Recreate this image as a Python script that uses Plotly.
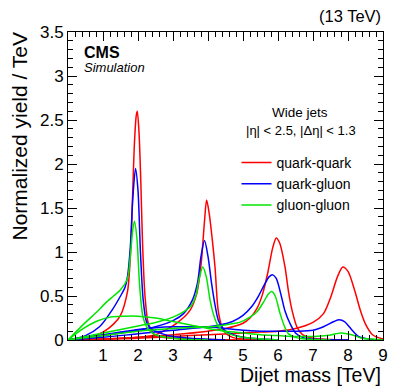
import plotly.graph_objects as go

# signal shapes: (x in TeV, normalized yield / TeV)
qq2_x = [0, 0.5, 1.0, 1.3, 1.5, 1.7, 1.75, 1.8, 1.85, 1.9, 1.95, 1.98, 2.03, 2.08, 2.13, 2.2, 2.3, 2.5, 3.0, 3.5, 4.0, 5.0]
qq2_y = [0, 0.02, 0.09, 0.18, 0.28, 0.55, 0.75, 1.1, 1.7, 2.25, 2.55, 2.6, 2.35, 1.8, 1.1, 0.5, 0.18, 0.05, 0.02, 0.01, 0.005, 0]
qg2_x = [0, 0.5, 0.9, 1.26, 1.5, 1.63, 1.7, 1.78, 1.85, 1.93, 2.0, 2.07, 2.15, 2.25, 2.4, 2.7, 3.0, 3.5, 4.5]
qg2_y = [0, 0.05, 0.15, 0.34, 0.5, 0.6, 0.72, 1.05, 1.6, 1.95, 1.7, 1.0, 0.45, 0.2, 0.12, 0.07, 0.04, 0.02, 0]
gg2_x = [0, 0.5, 0.8, 1.1, 1.3, 1.5, 1.7, 1.78, 1.85, 1.9, 1.97, 2.05, 2.15, 2.3, 2.5, 2.8, 3.2, 4.0]
gg2_y = [0, 0.2, 0.31, 0.43, 0.5, 0.57, 0.7, 0.95, 1.25, 1.35, 1.15, 0.6, 0.25, 0.12, 0.06, 0.03, 0.01, 0]

qq4_x = [0, 1, 2, 2.5, 3.1, 3.49, 3.68, 3.8, 3.9, 3.96, 4.03, 4.12, 4.2, 4.29, 4.4, 4.5, 4.7, 5.0, 6.0]
qq4_y = [0, 0.01, 0.03, 0.06, 0.19, 0.34, 0.53, 0.85, 1.35, 1.59, 1.45, 1.15, 0.83, 0.34, 0.15, 0.08, 0.03, 0.01, 0]
qg4_x = [0, 1, 2, 2.5, 3.0, 3.3, 3.55, 3.7, 3.8, 3.9, 4.0, 4.1, 4.2, 4.3, 4.45, 4.6, 5.0, 6.0]
qg4_y = [0, 0.05, 0.11, 0.15, 0.22, 0.3, 0.45, 0.65, 0.95, 1.13, 0.95, 0.65, 0.4, 0.22, 0.12, 0.08, 0.03, 0]
gg4_x = [0, 1, 2, 2.5, 3.0, 3.3, 3.5, 3.65, 3.75, 3.85, 3.95, 4.06, 4.15, 4.25, 4.4, 4.6, 5.0, 6.0]
gg4_y = [0, 0.08, 0.16, 0.2, 0.26, 0.32, 0.38, 0.5, 0.7, 0.83, 0.72, 0.45, 0.3, 0.19, 0.11, 0.07, 0.03, 0]

qq6_x = [0, 1, 2, 3, 4, 4.5, 5.0, 5.2, 5.4, 5.55, 5.7, 5.85, 5.95, 6.05, 6.2, 6.3, 6.4, 6.55, 6.7, 7.0, 8.0]
qq6_y = [0, 0.01, 0.03, 0.06, 0.1, 0.13, 0.19, 0.25, 0.36, 0.51, 0.75, 1.05, 1.16, 1.1, 0.83, 0.55, 0.34, 0.14, 0.06, 0.02, 0]
qg6_x = [0, 1, 2, 3, 4, 4.34, 4.7, 5.0, 5.25, 5.43, 5.6, 5.75, 5.85, 5.95, 6.1, 6.2, 6.34, 6.5, 6.7, 7.0, 8.0]
qg6_y = [0, 0.03, 0.07, 0.11, 0.15, 0.17, 0.21, 0.28, 0.38, 0.49, 0.62, 0.72, 0.74, 0.7, 0.49, 0.33, 0.19, 0.08, 0.03, 0.01, 0]
gg6_x = [0, 1, 2, 3, 4, 4.3, 4.6, 4.9, 5.2, 5.4, 5.6, 5.72, 5.82, 5.92, 6.06, 6.2, 6.3, 6.5, 6.8, 7.5]
gg6_y = [0, 0.05, 0.1, 0.13, 0.15, 0.16, 0.18, 0.2, 0.26, 0.32, 0.44, 0.52, 0.55, 0.5, 0.3, 0.14, 0.07, 0.03, 0.01, 0]

qq8_x = [0, 1, 2, 3, 4, 5, 5.5, 6.0, 6.5, 7.0, 7.3, 7.5, 7.7, 7.85, 8.0, 8.2, 8.35, 8.5, 8.7, 9.0]
qq8_y = [0, 0.01, 0.02, 0.04, 0.06, 0.08, 0.09, 0.1, 0.13, 0.2, 0.3, 0.48, 0.72, 0.83, 0.78, 0.55, 0.34, 0.18, 0.06, 0.01]
qg8_x = [0, 0.5, 1.0, 1.5, 2.0, 2.5, 3.0, 3.5, 4.0, 4.5, 5.0, 5.5, 6.0, 6.5, 7.0, 7.3, 7.6, 7.75, 7.9, 8.1, 8.3, 8.6, 9.0]
qg8_y = [0, 0.03, 0.06, 0.09, 0.12, 0.14, 0.15, 0.15, 0.15, 0.13, 0.11, 0.1, 0.1, 0.1, 0.11, 0.15, 0.21, 0.23, 0.21, 0.12, 0.04, 0.01, 0]
gg8_x = [0, 0.4, 0.8, 1.2, 1.6, 2.0, 2.5, 3.0, 3.5, 4.0, 4.5, 5.0, 5.5, 6.0, 6.5, 7.0, 7.4, 7.8, 8.1, 8.4, 8.7, 9.0]
gg8_y = [0, 0.12, 0.21, 0.26, 0.27, 0.27, 0.25, 0.21, 0.17, 0.13, 0.1, 0.08, 0.06, 0.05, 0.04, 0.04, 0.05, 0.08, 0.06, 0.02, 0.01, 0]

x_ticks = [1, 2, 3, 4, 5, 6, 7, 8, 9]
y_ticks = [0, 0.5, 1, 1.5, 2, 2.5, 3, 3.5]

FONT = "Liberation Sans, Arial, sans-serif"
RED, BLUE, GREEN = "#ff0000", "#0000ff", "#00e600"

curves = [
    ("quark-quark", RED, [(qq2_x, qq2_y), (qq4_x, qq4_y), (qq6_x, qq6_y), (qq8_x, qq8_y)]),
    ("quark-gluon", BLUE, [(qg2_x, qg2_y), (qg4_x, qg4_y), (qg6_x, qg6_y), (qg8_x, qg8_y)]),
    ("gluon-gluon", GREEN, [(gg2_x, gg2_y), (gg4_x, gg4_y), (gg6_x, gg6_y), (gg8_x, gg8_y)]),
]

fig = go.Figure()
for name, color, shapes in curves:
    for i, (xs, ys) in enumerate(shapes):
        fig.add_trace(go.Scatter(
            x=xs, y=ys, mode="lines", name=name, legendgroup=name,
            showlegend=(i == 0),
            line=dict(color=color, width=1.5, shape="spline", smoothing=0.8),
        ))

axis_common = dict(
    showline=True, linecolor="black", linewidth=1, mirror="ticks",
    ticks="inside", ticklen=9, tickcolor="black", tickwidth=1,
    showgrid=False, zeroline=False,
    tickfont=dict(family=FONT, size=17, color="black"),
)
fig.update_xaxes(range=[0, 9], tickvals=x_ticks,
                 minor=dict(ticks="inside", ticklen=5, dtick=0.2, tickcolor="black"),
                 **axis_common)
fig.update_yaxes(range=[0, 3.5], tickvals=y_ticks,
                 minor=dict(ticks="inside", ticklen=5, dtick=0.1, tickcolor="black"),
                 **axis_common)

ann = [
    dict(text="Normalized yield / TeV", x=-0.154, y=1.008, xanchor="center", yanchor="top",
         textangle=-90, font=dict(size=21)),
    dict(text="Dijet mass [TeV]", x=1.0, y=-0.113, xanchor="right", yanchor="middle",
         font=dict(size=19.5)),
    dict(text="(13 TeV)", x=1.0, y=1.052, xanchor="right", yanchor="middle",
         font=dict(size=16.5)),
    dict(text="<b>CMS</b>", x=0.044, y=0.935, xanchor="left", yanchor="middle",
         font=dict(size=16)),
    dict(text="<i>Simulation</i>", x=0.044, y=0.886, xanchor="left", yanchor="middle",
         font=dict(size=13)),
    dict(text="Wide jets", x=0.737, y=0.740, xanchor="center", yanchor="middle",
         font=dict(size=13.5)),
    dict(text="|η| < 2.5, |Δη| < 1.3", x=0.74, y=0.679, xanchor="center", yanchor="middle",
         font=dict(size=13)),
]
for a in ann:
    a.update(xref="paper", yref="paper", showarrow=False)
    a["font"].update(family=FONT, color="black")
    fig.add_annotation(**a)

# the page body keeps an 8px margin, so the figure is 8px smaller and the
# left/top margins 8px narrower to keep the frame where the reference has it
fig.update_layout(
    width=391, height=379,
    margin=dict(l=60, r=16, t=24, b=47),
    paper_bgcolor="white", plot_bgcolor="white",
    font=dict(family=FONT, color="black"),
    legend=dict(x=0.535, y=0.627, xanchor="left", yanchor="top",
                bgcolor="rgba(0,0,0,0)", font=dict(size=14, family=FONT),
                itemwidth=30, tracegroupgap=0),
)

fig.write_html("out.html")
